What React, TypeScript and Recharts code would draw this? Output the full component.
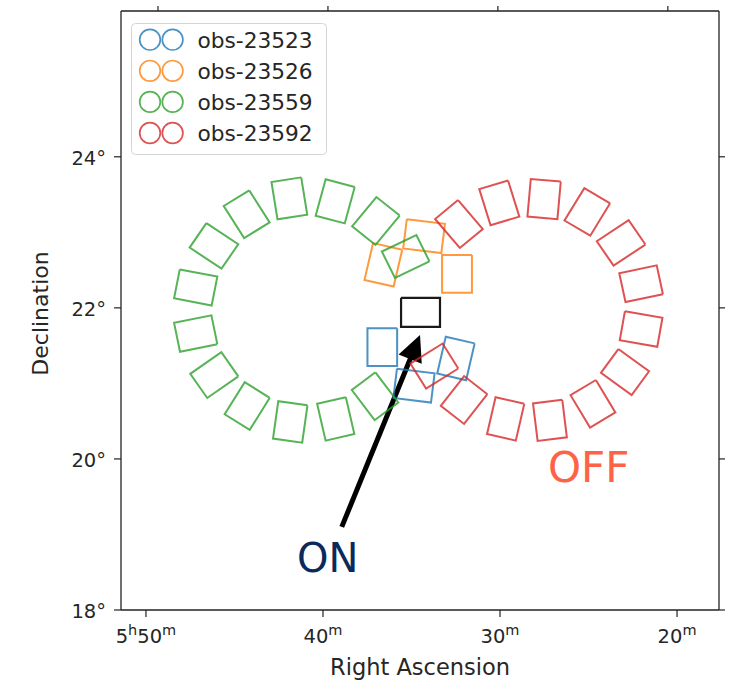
import React from "react";
import {
  Legend,
  ReferenceLine,
  Scatter,
  ScatterChart,
  XAxis,
  YAxis,
} from "recharts";

const FONT = "DejaVu Sans";

// axes (RA in minutes past 5h, Dec in degrees)
const raDomain = [17.63, 51.41];
const decDomain = [18, 25.93];
const raTicks = [50, 40, 30, 20];
const raTickLabels = ["5h50m", "40m", "30m", "20m"];
const raTopTicks = [49.32, 39.72, 30.12, 20.52];
const decTicks = [18, 20, 22, 24];
const decTickLabels = ["18°", "20°", "22°", "24°"];

const obsNames = ["obs-23523", "obs-23526", "obs-23559", "obs-23592"];
const obsColors = ["#1f77b4", "#ff7f0e", "#2ca02c", "#d62728"];

// pointing centres and field rotation of each observation
const blueRa = [36.65, 34.86, 32.49];
const blueDec = [21.48, 20.97, 21.33];
const blueRot = [90, 7, 103];

const orangeRa = [36.59, 34.29, 32.43];
const orangeDec = [22.57, 22.95, 22.45];
const orangeRot = [103, 7, 90];

const greenRa = [47.19, 46.16, 44.31, 41.9, 39.31, 37.01, 35.33, 37.06, 39.28, 41.85, 44.28, 46.14, 47.19];
const greenDec = [22.27, 22.82, 23.24, 23.45, 23.41, 23.15, 22.68, 20.83, 20.53, 20.49, 20.7, 21.11, 21.66];
const greenRot = [11, 34, 58, 81, 105, 129, 154, 53, 77, 98, 122, 145, 168.5];

const redRa = [32.32, 30.04, 27.51, 25.07, 23.16, 22.03, 22.03, 22.94, 24.75, 27.18, 29.68, 32.03, 33.71];
const redDec = [23.11, 23.39, 23.44, 23.27, 22.86, 22.32, 21.72, 21.15, 20.73, 20.51, 20.53, 20.78, 21.23];
const redRot = [50, 73, 95, 121, 146, 168, 10, 36, 59, 83, 103, 128, 148];

// ON region
const onRa = [34.49];
const onDec = [21.94];

// arrow tail -> tip
const arrowRa = [38.94, 34.52];
const arrowDec = [19.1, 21.64];

const annotationText = ["ON", "OFF"];
const annotationRa = [41.47, 27.29];
const annotationDec = [18.5, 19.7];
const annotationColor = ["#0b2a5c", "tomato"];

// footprint size in sky degrees
const FOV_LONG = 0.5;
const FOV_SHORT = 0.39;

function footprint(ra: number, dec: number, rot: number, long = FOV_LONG, short = FOV_SHORT) {
  const t = (rot * Math.PI) / 180;
  const raPerDeg = 4 / Math.cos((dec * Math.PI) / 180);
  const corners = [[-1, -1], [1, -1], [1, 1], [-1, 1], [-1, -1]];
  return corners.map(([a, b]) => {
    const along = (a * long) / 2;
    const across = (b * short) / 2;
    const right = along * Math.cos(t) - across * Math.sin(t);
    const down = along * Math.sin(t) + across * Math.cos(t);
    return { x: ra - right * raPerDeg, y: dec - down };
  });
}

const groups = [
  { ra: blueRa, dec: blueDec, rot: blueRot, color: obsColors[0] },
  { ra: orangeRa, dec: orangeDec, rot: orangeRot, color: obsColors[1] },
  { ra: greenRa, dec: greenDec, rot: greenRot, color: obsColors[2] },
  { ra: redRa, dec: redDec, rot: redRot, color: obsColors[3] },
];

const annotations = annotationText.map((text, i) => ({
  x: annotationRa[i],
  y: annotationDec[i],
  text,
  color: annotationColor[i],
}));

function RaTick(props: any) {
  const { x, y, payload } = props;
  const label = raTickLabels[raTicks.indexOf(payload.value)] ?? "";
  const parts = label.match(/\d+|[a-z]/g) || [];
  let prevSup = false;
  return (
    <text x={x} y={y + 24} textAnchor="middle" fontSize={19.5} fontFamily={FONT} fill="#262626">
      {parts.map((p, i) => {
        const sup = /[a-z]/.test(p);
        const dy = sup ? -8 : prevSup ? 8 : 0;
        prevSup = sup;
        return (
          <tspan key={i} dy={dy} fontSize={sup ? 14.5 : 19.5}>
            {p}
          </tspan>
        );
      })}
    </text>
  );
}

function DecTick(props: any) {
  const { x, y, payload } = props;
  const label = decTickLabels[decTicks.indexOf(payload.value)] ?? "";
  return (
    <text x={x} y={y + 8} textAnchor="end" fontSize={19.5} fontFamily={FONT} fill="#262626">
      {label}
    </text>
  );
}

function Arrow(props: any) {
  const { x1, y1, x2, y2 } = props;
  const dx = x2 - x1;
  const dy = y2 - y1;
  const len = Math.hypot(dx, dy);
  const ux = dx / len;
  const uy = dy / len;
  const headLen = 26;
  const headHalf = 12.5;
  const bx = x2 - ux * headLen;
  const by = y2 - uy * headLen;
  const pts = `${x2},${y2} ${bx - uy * headHalf},${by + ux * headHalf} ${bx + uy * headHalf},${by - ux * headHalf}`;
  return (
    <g>
      <line x1={x1} y1={y1} x2={bx + ux * 2} y2={by + uy * 2} stroke="#000" strokeWidth={5} />
      <polygon points={pts} fill="#000" />
    </g>
  );
}

function LegendBox() {
  return (
    <svg width={197} height={133}>
      <rect x={0.5} y={0.5} width={195} height={131} rx={4} fill="#fff" fillOpacity={0.8} stroke="#d5d5d5" />
      {obsNames.map((name, i) => {
        const cy = 16.7 + i * 31.1;
        return (
          <g key={name}>
            <circle cx={19} cy={cy} r={10.3} fill="none" stroke={obsColors[i]} strokeWidth={1.7} strokeOpacity={0.8} />
            <circle cx={41.6} cy={cy} r={10.3} fill="none" stroke={obsColors[i]} strokeWidth={1.7} strokeOpacity={0.8} />
            <text x={66.5} y={cy + 7.8} fontSize={21.7} fontFamily={FONT} fill="#262626">
              {name}
            </text>
          </g>
        );
      })}
    </svg>
  );
}

export default function App() {
  const axisLine = { stroke: "#222", strokeWidth: 1.3 };
  const tickLine = { stroke: "#222", strokeWidth: 1.2 };
  return (
    <div style={{ position: "absolute", left: 0, top: 0, width: 734, height: 684, background: "#fff" }}>
      <ScatterChart width={734} height={684} margin={{ top: 0, right: 0, bottom: 0, left: 0 }}>
        <XAxis
          xAxisId="b"
          type="number"
          dataKey="x"
          orientation="bottom"
          domain={raDomain}
          reversed
          allowDataOverflow
          ticks={raTicks}
          height={74}
          tickSize={7}
          tickMargin={2}
          axisLine={axisLine}
          tickLine={tickLine}
          tick={<RaTick />}
          label={{
            value: "Right Ascension",
            position: "insideBottom",
            offset: 9,
            fontSize: 22.5,
            fontFamily: FONT,
            fill: "#262626",
          }}
        />
        <XAxis
          xAxisId="t"
          type="number"
          dataKey="x"
          orientation="top"
          domain={raDomain}
          reversed
          allowDataOverflow
          ticks={raTopTicks}
          height={11}
          tickSize={5}
          axisLine={axisLine}
          tickLine={tickLine}
          tick={() => <g />}
        />
        <YAxis
          yAxisId="l"
          type="number"
          dataKey="y"
          domain={decDomain}
          allowDataOverflow
          ticks={decTicks}
          width={121}
          tickSize={7}
          tickMargin={8}
          axisLine={axisLine}
          tickLine={tickLine}
          tick={<DecTick />}
          label={{
            content: (p: any) => {
              const vb = p.viewBox;
              const cx = 48;
              const cy = vb.y + vb.height / 2 + 3;
              return (
                <text
                  x={cx}
                  y={cy}
                  textAnchor="middle"
                  fontSize={22}
                  fontFamily={FONT}
                  fill="#262626"
                  transform={`rotate(-90, ${cx}, ${cy})`}
                >
                  Declination
                </text>
              );
            },
          }}
        />
        <YAxis
          yAxisId="r"
          type="number"
          dataKey="y"
          orientation="right"
          domain={decDomain}
          allowDataOverflow
          ticks={decTicks}
          width={15}
          tickSize={6}
          axisLine={axisLine}
          tickLine={tickLine}
          tick={() => <g />}
        />

        {groups.map((g, gi) =>
          g.ra.map((ra, i) => (
            <Scatter
              key={`${gi}-${i}`}
              xAxisId="b"
              yAxisId="l"
              data={footprint(ra, g.dec[i], g.rot[i])}
              line={{ stroke: g.color, strokeWidth: 2, strokeOpacity: 0.8 }}
              lineType="joint"
              shape={() => <g />}
              legendType="none"
              isAnimationActive={false}
            />
          ))
        )}

        {onRa.map((ra, i) => (
          <Scatter
            key={`on-${i}`}
            xAxisId="b"
            yAxisId="l"
            data={footprint(ra, onDec[i], 0, 0.51, 0.385)}
            line={{ stroke: "#1a1a1a", strokeWidth: 2.2 }}
            lineType="joint"
            shape={() => <g />}
            legendType="none"
            isAnimationActive={false}
          />
        ))}

        <ReferenceLine
          xAxisId="b"
          yAxisId="l"
          segment={[
            { x: arrowRa[0], y: arrowDec[0] },
            { x: arrowRa[1], y: arrowDec[1] },
          ]}
          shape={Arrow}
        />

        <Scatter
          xAxisId="b"
          yAxisId="l"
          data={annotations}
          legendType="none"
          isAnimationActive={false}
          shape={(p: any) => (
            <text x={p.cx} y={p.cy} fontSize={p.payload.text === "OFF" ? 42 : 40} fontFamily={FONT} fill={p.payload.color}>
              {p.payload.text}
            </text>
          )}
        />

        <Legend
          layout="horizontal"
          verticalAlign="middle"
          align="center"
          content={() => <LegendBox />}
          wrapperStyle={{ position: "absolute", left: 131, top: 23, width: 197, height: 133 }}
        />
      </ScatterChart>
    </div>
  );
}
